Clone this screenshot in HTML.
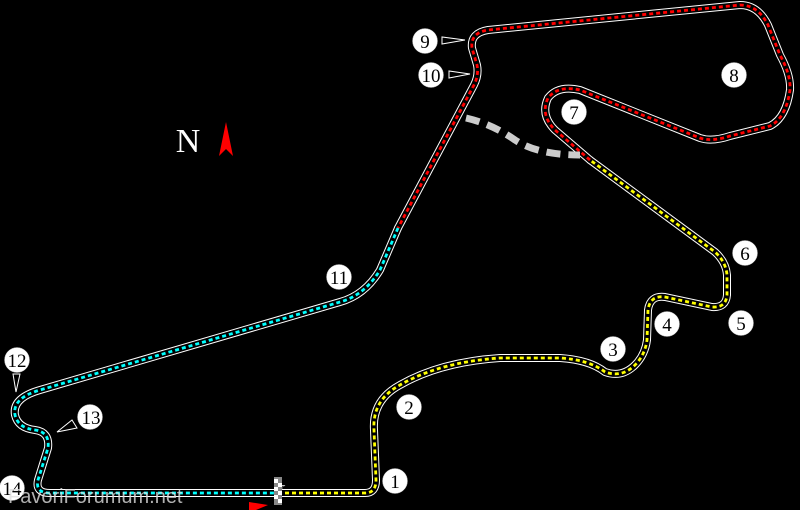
<!DOCTYPE html>
<html><head><meta charset="utf-8"><style>
html,body{margin:0;padding:0;background:#000;width:800px;height:510px;overflow:hidden}
svg{display:block}
.o{fill:none;stroke:#fff;stroke-width:8;stroke-linejoin:round;stroke-linecap:round}
.i{fill:none;stroke:#000;stroke-width:6;stroke-linejoin:round;stroke-linecap:round}
.d{fill:none;stroke-width:2.8;stroke-dasharray:4 3}
.n{font-family:"Liberation Serif",serif;font-size:19px;text-anchor:middle;fill:#000}
</style></head><body>
<svg width="800" height="510" viewBox="0 0 800 510">
<!-- pit lane -->
<path d="M48,440 L50,480 Q52,487 60,487 L350,487 Q364,487 366,470 L367,430" fill="none" stroke="#fff" stroke-width="3.5"/>
<path d="M48,440 L50,480 Q52,487 60,487 L350,487 Q364,487 366,470 L367,430" fill="none" stroke="#000" stroke-width="1.5"/>
<g id="t">
<path id="red" d="M590,160 L555,130 Q540,115 548,98 Q558,85 580,90 L700,138 Q712,142 730,136 L770,126 Q786,118 790,90 Q791,75 780,55 L768,25 Q758,5 740,5 L488,30 Q470,33 472,48 L477,65 Q479,75 474,85 L398,228"/>
<path id="cyan" d="M398,228 L380,270 Q365,295 340,302 L40,390 Q12,398 15,415 Q18,428 35,430 Q50,432 48,448 L38,480 Q35,493 50,493 L278,493"/>
<path id="yel" d="M278,493 L365,493 Q376,493 376,480 L374,430 Q372,400 400,385 Q440,362 500,358 L560,358 Q590,360 605,372 Q622,378 635,365 Q645,355 647,340 L648,310 Q650,295 665,297 L712,307 Q726,308 727,295 L727,275 Q726,262 715,252 L590,160"/>
</g>
<use href="#red" class="o"/><use href="#cyan" class="o"/><use href="#yel" class="o"/>
<use href="#red" class="i"/><use href="#cyan" class="i"/><use href="#yel" class="i"/>
<use href="#red" class="d" stroke="#f00"/><use href="#cyan" class="d" stroke="#0ff"/><use href="#yel" class="d" stroke="#ff0"/>
<!-- grey alt section -->
<path d="M466,118 Q492,124 515,140 Q538,155 580,155" style="fill:none;stroke:#ccc;stroke-width:7;stroke-dasharray:14 8"/>
<!-- flags -->
<rect x="274" y="477" width="8" height="28" fill="#888"/>
<path d="M274,479h4v4h-4zM278,483h4v4h-4zM274,487h4v4h-4zM278,491h4v4h-4zM274,495h4v4h-4zM278,499h4v4h-4z" fill="#fff"/>
<path d="M249,502 L249,510 L256,510 L268,505 Z" fill="#f00"/>
<!-- pointers -->
<path d="M442,37 L442,44 L465,40 Z" fill="#000" stroke="#fff" stroke-width="1"/>
<path d="M449,71 L449,78 L470,74 Z" fill="#000" stroke="#fff" stroke-width="1"/>
<path d="M13,374 L20,374 L16,392 Z" fill="#000" stroke="#fff" stroke-width="1"/>
<path d="M72,420 L77,428 L57,432 Z" fill="#000" stroke="#fff" stroke-width="1"/>
<!-- numbers -->
<g fill="#fff" stroke="#aaa" stroke-width="0.5">
<circle cx="395" cy="481" r="12.5"/><circle cx="409" cy="407" r="12.5"/><circle cx="613" cy="349" r="12.5"/>
<circle cx="667" cy="324" r="12.5"/><circle cx="741" cy="323" r="12.5"/><circle cx="745" cy="253" r="12.5"/>
<circle cx="574" cy="112" r="12.5"/><circle cx="734" cy="75" r="12.5"/><circle cx="425" cy="41" r="12.5"/>
<circle cx="431" cy="75" r="12.5"/><circle cx="339" cy="277" r="12.5"/><circle cx="17" cy="360" r="12.5"/>
<circle cx="90" cy="417" r="12.5"/><circle cx="12" cy="488" r="12.5"/>
</g>
<text class="n" x="395" y="488">1</text><text class="n" x="409" y="414">2</text><text class="n" x="613" y="356">3</text>
<text class="n" x="667" y="331">4</text><text class="n" x="741" y="330">5</text><text class="n" x="745" y="260">6</text>
<text class="n" x="574" y="119">7</text><text class="n" x="734" y="82">8</text><text class="n" x="425" y="48">9</text>
<text class="n" x="431" y="82">10</text><text class="n" x="339" y="284">11</text><text class="n" x="17" y="367">12</text>
<text class="n" x="91" y="424">13</text><text class="n" x="12" y="495">14</text>
<!-- north -->
<text x="188" y="152" font-family="Liberation Serif,serif" font-size="34" fill="#fff" text-anchor="middle">N</text>
<path d="M226,122 L219,156 L226,149 L233,156 Z" fill="#f00"/>
<text x="8" y="503" font-family="Liberation Sans,sans-serif" font-size="20" fill="#ddd" fill-opacity="0.8">FavoriForumum.net</text>
</svg>
</body></html>
